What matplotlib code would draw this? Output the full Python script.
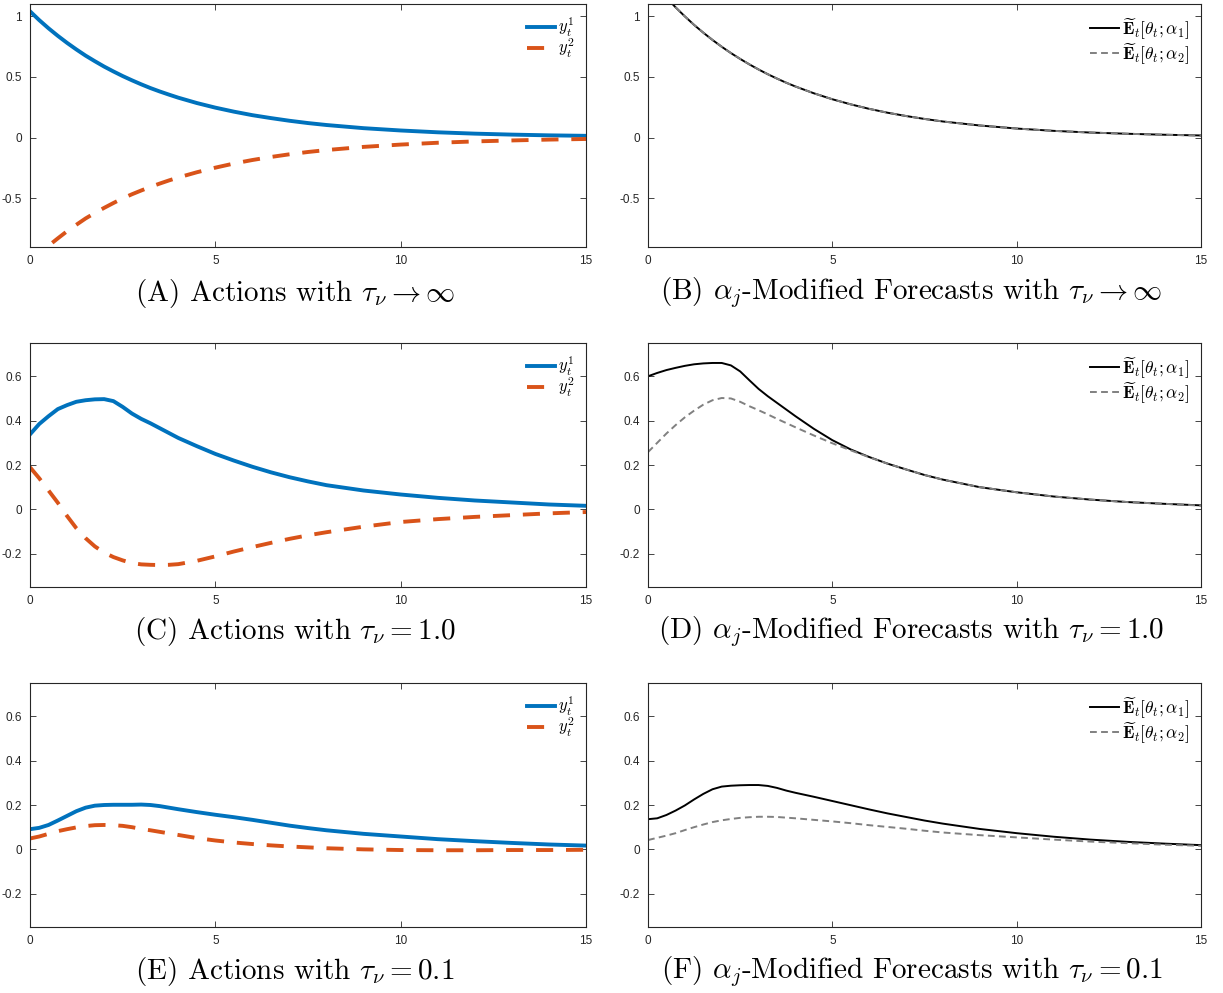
import matplotlib
matplotlib.use("Agg")
import matplotlib.pyplot as plt

plt.rcParams['mathtext.fontset'] = 'cm'
plt.rcParams['axes.unicode_minus'] = False
plt.rcParams['font.family'] = ['Liberation Sans', 'DejaVu Sans']

# shared time grid
t = [0, 0.25, 0.5, 0.75, 1, 1.25, 1.5, 1.75, 2, 2.25, 2.5, 2.75, 3, 3.25, 3.5, 3.75, 4,
     4.5, 5, 5.5, 6, 6.5, 7, 7.5, 8, 9, 10, 11, 12, 13, 14, 15]

# (A) actions, tau -> inf
a_y1 = [1.04, 0.967, 0.90, 0.838, 0.78, 0.726, 0.675, 0.629, 0.585, 0.545, 0.507, 0.472,
        0.439, 0.408, 0.38, 0.354, 0.329, 0.285, 0.247, 0.214, 0.185, 0.161, 0.139, 0.12,
        0.104, 0.078, 0.059, 0.044, 0.033, 0.025, 0.019, 0.015]
a_y2 = [-1.03, -0.958, -0.89, -0.829, -0.77, -0.717, -0.665, -0.62, -0.578, -0.538, -0.50,
        -0.466, -0.435, -0.405, -0.378, -0.352, -0.328, -0.285, -0.247, -0.213, -0.184,
        -0.159, -0.137, -0.118, -0.102, -0.076, -0.057, -0.042, -0.031, -0.023, -0.016, -0.011]

# (B) forecasts, tau -> inf
b_e1 = [1.33, 1.237, 1.152, 1.072, 0.998, 0.928, 0.864, 0.804, 0.748, 0.696, 0.648, 0.603,
        0.561, 0.522, 0.486, 0.452, 0.421, 0.365, 0.316, 0.274, 0.237, 0.205, 0.178, 0.154,
        0.133, 0.10, 0.075, 0.056, 0.042, 0.032, 0.024, 0.018]
b_e2 = [1.33, 1.237, 1.152, 1.072, 0.998, 0.928, 0.864, 0.804, 0.748, 0.696, 0.648, 0.603,
        0.561, 0.522, 0.486, 0.452, 0.421, 0.365, 0.316, 0.274, 0.237, 0.205, 0.178, 0.154,
        0.133, 0.10, 0.075, 0.056, 0.042, 0.032, 0.024, 0.017]

# (C) actions, tau = 1.0
c_y1 = [0.338, 0.385, 0.42, 0.452, 0.47, 0.485, 0.492, 0.496, 0.497, 0.488, 0.462, 0.432,
        0.408, 0.388, 0.366, 0.344, 0.322, 0.285, 0.25, 0.22, 0.192, 0.167, 0.145, 0.126,
        0.109, 0.085, 0.067, 0.052, 0.04, 0.031, 0.022, 0.016]
c_y2 = [0.19, 0.14, 0.085, 0.03, -0.03, -0.085, -0.13, -0.167, -0.195, -0.215, -0.23, -0.242,
        -0.248, -0.25, -0.251, -0.25, -0.247, -0.232, -0.212, -0.19, -0.17, -0.151, -0.133,
        -0.117, -0.103, -0.078, -0.057, -0.044, -0.034, -0.026, -0.018, -0.012]

# (D) forecasts, tau = 1.0
d_e1 = [0.60, 0.615, 0.628, 0.638, 0.647, 0.654, 0.658, 0.66, 0.66, 0.649, 0.622, 0.582,
        0.543, 0.51, 0.48, 0.45, 0.42, 0.363, 0.312, 0.27, 0.236, 0.206, 0.18, 0.155,
        0.134, 0.10, 0.077, 0.058, 0.044, 0.033, 0.025, 0.018]
d_e2 = [0.258, 0.30, 0.342, 0.38, 0.415, 0.445, 0.472, 0.492, 0.502, 0.50, 0.485, 0.465,
        0.447, 0.428, 0.408, 0.389, 0.37, 0.333, 0.298, 0.266, 0.235, 0.206, 0.18, 0.155,
        0.134, 0.10, 0.077, 0.058, 0.044, 0.033, 0.025, 0.017]

# (E) actions, tau = 0.1
e_y1 = [0.091, 0.097, 0.11, 0.13, 0.151, 0.172, 0.188, 0.197, 0.20, 0.201, 0.201, 0.201,
        0.202, 0.20, 0.195, 0.188, 0.181, 0.168, 0.156, 0.145, 0.133, 0.12, 0.107, 0.096,
        0.086, 0.07, 0.058, 0.046, 0.037, 0.029, 0.022, 0.017]
e_y2 = [0.049, 0.058, 0.07, 0.082, 0.091, 0.099, 0.105, 0.109, 0.11, 0.109, 0.106, 0.10,
        0.092, 0.086, 0.079, 0.072, 0.065, 0.051, 0.04, 0.031, 0.024, 0.018, 0.013, 0.009,
        0.005, 0.0, -0.003, -0.004, -0.004, -0.003, -0.003, -0.002]

# (F) forecasts, tau = 0.1
f_e1 = [0.136, 0.14, 0.155, 0.175, 0.198, 0.225, 0.25, 0.271, 0.283, 0.287, 0.289, 0.29,
        0.29, 0.286, 0.277, 0.265, 0.255, 0.237, 0.218, 0.199, 0.18, 0.162, 0.146, 0.13,
        0.116, 0.092, 0.073, 0.057, 0.044, 0.034, 0.026, 0.019]
f_e2 = [0.042, 0.052, 0.062, 0.073, 0.087, 0.10, 0.112, 0.123, 0.131, 0.137, 0.142, 0.145,
        0.147, 0.147, 0.146, 0.143, 0.14, 0.133, 0.126, 0.118, 0.109, 0.101, 0.093, 0.084,
        0.076, 0.064, 0.054, 0.044, 0.035, 0.028, 0.021, 0.016]

captions = [
    r"(A) Actions with $\tau_\nu \to \infty$",
    r"(B) $\alpha_j$-Modified Forecasts with $\tau_\nu \to \infty$",
    r"(C) Actions with $\tau_\nu = 1.0$",
    r"(D) $\alpha_j$-Modified Forecasts with $\tau_\nu = 1.0$",
    r"(E) Actions with $\tau_\nu = 0.1$",
    r"(F) $\alpha_j$-Modified Forecasts with $\tau_\nu = 0.1$",
]

blue = (0, 0.447, 0.741)
orange = (0.851, 0.325, 0.098)
gray = (0.5, 0.5, 0.5)
axcol = (0.15, 0.15, 0.15)

W, H = 1223, 993
fig = plt.figure(figsize=(W / 100, H / 100), dpi=100)

cols = [(30, 586), (648, 1201)]
rows = [(4, 247), (343, 587), (683, 927)]
ylims = [(-0.9, 1.1), (-0.35, 0.75), (-0.35, 0.75)]
yticks = [[-0.5, 0, 0.5, 1], [-0.2, 0, 0.2, 0.4, 0.6], [-0.2, 0, 0.2, 0.4, 0.6]]
caption_y = [293, 632, 972]

actions = [(a_y1, a_y2), (c_y1, c_y2), (e_y1, e_y2)]
forecasts = [(b_e1, b_e2), (d_e1, d_e2), (f_e1, f_e2)]

for r in range(3):
    top, bot = rows[r]
    for c in range(2):
        left, right = cols[c]
        ax = fig.add_axes([left / W, 1 - bot / H, (right - left) / W, (bot - top) / H])
        if c == 0:
            s1, s2 = actions[r]
            ax.plot(t, s1, color=blue, lw=2.8, label=r"$y_t^1$")
            ax.plot(t, s2, color=orange, lw=2.8, dashes=(4.4, 3.3), label=r"$y_t^2$")
            fs, spacing = 12, -0.1
        else:
            s1, s2 = forecasts[r]
            ax.plot(t, s1, color='black', lw=1.4,
                    label=r"$\widetilde{\mathbf{E}}_t[\theta_t;\alpha_1]$")
            ax.plot(t, s2, color=gray, lw=1.4, dashes=(3.5, 2.2),
                    label=r"$\widetilde{\mathbf{E}}_t[\theta_t;\alpha_2]$")
            fs, spacing = 12.5, 0.0
        ax.set_xlim(0, 15)
        ax.set_ylim(*ylims[r])
        ax.set_xticks([0, 5, 10, 15])
        ax.set_yticks(yticks[r])
        ax.set_xticklabels(["%g" % v for v in [0, 5, 10, 15]])
        ax.set_yticklabels(["%g" % v for v in yticks[r]])
        ax.tick_params(direction='in', length=4, width=0.6, labelsize=8.5,
                       colors=axcol, top=True, right=True, pad=6)
        for sp in ax.spines.values():
            sp.set_linewidth(0.8)
            sp.set_color(axcol)
        ax.legend(loc='upper right', frameon=False, fontsize=fs, handlelength=1.7,
                  handletextpad=0.15, labelspacing=spacing, borderaxespad=0.3)

        xc = ((left + right) / 2 - 13) / W
        yc = 1 - caption_y[r] / H
        fig.text(xc, yc, captions[2 * r + c], ha='center', va='center',
                 fontsize=21, family='cmr10')

fig.savefig("out.png", dpi=100)
